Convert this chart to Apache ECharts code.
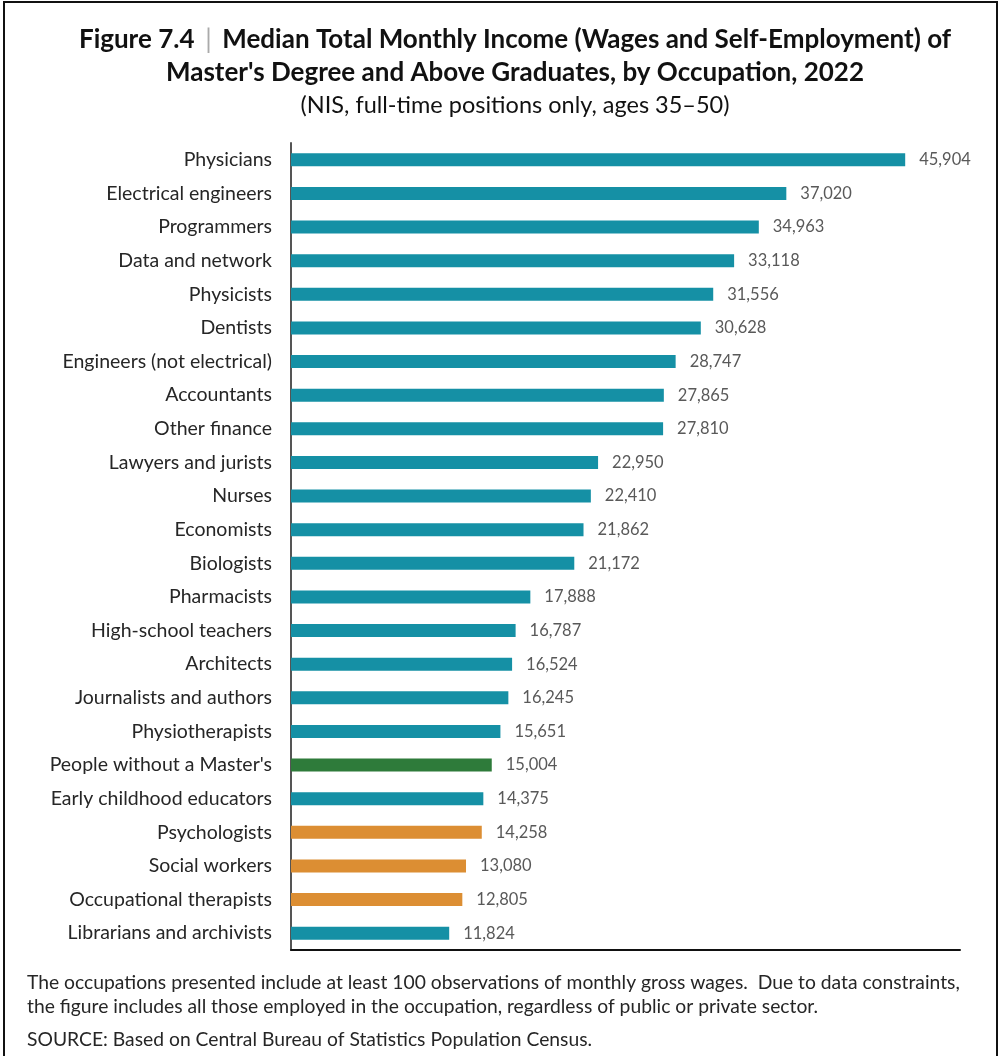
<!DOCTYPE html>
<html><head><meta charset="utf-8">
<script src="https://cdn.jsdelivr.net/npm/echarts@6/dist/echarts.min.js"></script>
<style>html,body{margin:0;padding:0;background:#fff}#c{width:1001px;height:1056px}</style>
</head><body><div id="c"></div>
<script>
const categories = ["Physicians","Electrical engineers","Programmers","Data and network","Physicists","Dentists","Engineers (not electrical)","Accountants","Other finance","Lawyers and jurists","Nurses","Economists","Biologists","Pharmacists","High-school teachers","Architects","Journalists and authors","Physiotherapists","People without a Master's","Early childhood educators","Psychologists","Social workers","Occupational therapists","Librarians and archivists"];
const values = [45904,37020,34963,33118,31556,30628,28747,27865,27810,22950,22410,21862,21172,17888,16787,16524,16245,15651,15004,14375,14258,13080,12805,11824];
const groups = ["base","base","base","base","base","base","base","base","base","base","base","base","base","base","base","base","base","base","nomaster","base","welfare","welfare","welfare","base"];
const groupColors = {base:"#1590A5", nomaster:"#2E7B3A", welfare:"#DC8E33"};
const titleLines = ["Median Total Monthly Income (Wages and Self-Employment) of","Master's Degree and Above Graduates, by Occupation, 2022","(NIS, full-time positions only, ages 35\u201350)"];
const notes = ["The occupations presented include at least 100 observations of monthly gross wages.  Due to data constraints,","the figure includes all those employed in the occupation, regardless of public or private sector.","SOURCE: Based on Central Bureau of Statistics Population Census."];

const FONT = "Lato, 'Open Sans', sans-serif";
const chart = echarts.init(document.getElementById('c'), null, {renderer:'canvas'});
chart.setOption({
  backgroundColor:'#fff',
  animation:false,
  textStyle:{fontFamily:FONT},
  grid:{left:291,right:41,top:143,bottom:106,containLabel:false},
  xAxis:{type:'value',min:0,max:50000,
    axisLine:{show:true,lineStyle:{color:'#111',width:2}},
    axisTick:{show:false},axisLabel:{show:false},splitLine:{show:false}},
  yAxis:{type:'category',inverse:true,data:categories,
    axisLine:{show:true,onZero:false,lineStyle:{color:'#555',width:2}},
    axisTick:{show:false},
    axisLabel:{color:'#262626',fontSize:19.5,margin:19,fontFamily:FONT}},
  series:[{type:'bar',barWidth:13,
    data:values.map((v,i)=>({value:v,itemStyle:{color:groupColors[groups[i]]}})),
    label:{show:true,position:'right',distance:14,color:'#595959',fontSize:16.5,fontFamily:FONT,
      formatter:p=>p.value.toLocaleString('en-US')}}],
  graphic:[
    {type:'rect',shape:{x:4,y:2,width:993,height:1080},style:{fill:'none',stroke:'#111',lineWidth:2},silent:true},
    {type:'text',x:515,y:40,style:{
      text:'{a|Figure 7.4}{b| | }{a|'+titleLines[0]+'}',
      rich:{a:{fontSize:26,fontWeight:'bold',fill:'#111',fontFamily:FONT},b:{fontSize:26,fill:'#aaa',fontFamily:FONT,padding:[0,4,0,4]}},
      align:'center',verticalAlign:'middle'}},
    {type:'text',x:515,y:73,style:{text:titleLines[1],fontSize:26,fontWeight:'bold',fill:'#111',fontFamily:FONT,align:'center',verticalAlign:'middle'}},
    {type:'text',x:515,y:105,style:{text:titleLines[2],fontSize:23.5,fill:'#111',fontFamily:FONT,align:'center',verticalAlign:'middle'}},
    {type:'text',x:27,y:983,style:{text:notes[0],fontSize:19.3,fill:'#262626',fontFamily:FONT,verticalAlign:'middle'}},
    {type:'text',x:27,y:1007,style:{text:notes[1],fontSize:19.3,fill:'#262626',fontFamily:FONT,verticalAlign:'middle'}},
    {type:'text',x:27,y:1040,style:{text:notes[2],fontSize:19.3,fill:'#262626',fontFamily:FONT,verticalAlign:'middle'}}
  ]
});
</script></body></html>
